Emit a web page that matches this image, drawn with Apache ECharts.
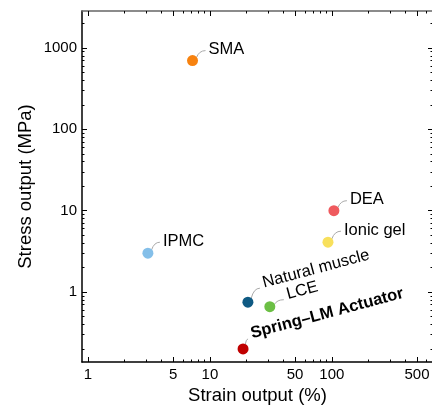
<!DOCTYPE html>
<html lang="en">
<head>
  <meta charset="UTF-8">
  <title>Stress vs strain</title>
  <script src="https://cdn.jsdelivr.net/npm/echarts@6.0.0/dist/echarts.min.js"></script>
</head>
<body style="margin:0">
<div id="main" style="width: 432px;height:409px;"></div>
<script type="text/javascript">

  // actuator types and their values
  const names = ['SMA', 'DEA', 'Ionic gel', 'IPMC', 'Natural muscle', 'LCE', 'Spring–LM Actuator'];
  const strain = [7.2, 104, 93, 3.1, 20.5, 31, 18.7];   // %
  const stress = [700, 10, 4.1, 3.0, 0.75, 0.66, 0.2];  // MPa

  // tick values
  const xMajor = [1, 5, 10, 50, 100, 500];
  const xMinor = [2, 3, 4, 6, 7, 8, 9, 20, 30, 40, 60, 70, 80, 90, 200, 300, 400, 600];
  const yMajor = [1, 10, 100, 1000];
  const yMinor = [0.2, 0.3, 0.4, 0.5, 0.6, 0.7, 0.8, 0.9, 2, 3, 4, 5, 6, 7, 8, 9,
    20, 30, 40, 50, 60, 70, 80, 90, 200, 300, 400, 500, 600, 700, 800, 900, 2000];

  const pointColors = ['#f7820f', '#ef5a5e', '#f8e05c', '#84bfe9', '#0f5a83', '#6cbf45', '#c00000'];

  // label placement relative to the dot centre: [dx, dy, rotate]
  const labelPlace = {
    'SMA': [16, -11, 0],
    'DEA': [16, -11, 0],
    'Ionic gel': [16, -12, 0],
    'IPMC': [15, -12, 0],
    'Natural muscle': [15, -19, 15],
    'LCE': [17, -12, 15],
    'Spring–LM Actuator': [8, -15, 15]
  };

  var myChart = echarts.init(document.getElementById('main'));

  const font = 'Liberation Sans, Arial, sans-serif';
  const xRange = {min: 0.893, max: 676};
  const yRange = {min: 0.138, max: 2850};

  // build an axis (major ticks + labels, or minor ticks only)
  function makeAxis(pos, range, ticks, len, withLine, lineColor, labels) {
    return {
      type: 'log',
      position: pos,
      min: range.min,
      max: range.max,
      splitLine: {show: false},
      axisLine: {show: withLine, lineStyle: {color: lineColor, width: 1.5}},
      axisTick: {show: true, inside: true, length: len, customValues: ticks,
        lineStyle: {color: '#000', width: 1}},
      axisLabel: labels ? {show: true, customValues: ticks, color: '#000', fontSize: 15,
        fontFamily: font, margin: 5, formatter: function (v) { return String(v); }} : {show: false}
    };
  }

  const xAxes = [
    makeAxis('bottom', xRange, xMajor, 5, true, '#000', true),
    makeAxis('bottom', xRange, xMinor, 2.5, false, '#000', false),
    makeAxis('top', xRange, xMajor, 5, true, '#666', false),
    makeAxis('top', xRange, xMinor, 2.5, false, '#666', false)
  ];
  Object.assign(xAxes[0], {
    name: 'Strain output (%)', nameLocation: 'middle', nameGap: 24, nameMoveOverlap: false,
    nameTextStyle: {color: '#000', fontSize: 18.5, fontFamily: font}
  });

  const yAxes = [
    makeAxis('left', yRange, yMajor, 5, true, '#000', true),
    makeAxis('left', yRange, yMinor, 2.5, false, '#000', false),
    makeAxis('right', yRange, yMajor, 5, true, '#666', false),
    makeAxis('right', yRange, yMinor, 2.5, false, '#666', false)
  ];
  Object.assign(yAxes[0], {
    name: 'Stress output (MPa)', nameLocation: 'middle', nameGap: 47, nameMoveOverlap: false,
    nameTextStyle: {color: '#000', fontSize: 18.5, fontFamily: font}
  });

  const points = names.map(function (n, i) {
    return {
      name: n,
      value: [strain[i], stress[i]],
      itemStyle: {color: pointColors[i], opacity: 1},
      label: {fontWeight: n === 'Spring–LM Actuator' ? 'bold' : 'normal'}
    };
  });

  // end of the leader line, near the start of the text
  function leaderEnd(pt, pl) {
    return pl[2] ? [pt[0] + pl[0] - 3, pt[1] + pl[1] + 5] : [pt[0] + pl[0] - 3, pt[1] + pl[1] + 1];
  }

  myChart.setOption({
    backgroundColor: '#fff',
    animation: false,
    grid: {left: 82, right: -1, top: 11, bottom: 47, containLabel: false, outerBoundsMode: 'none'},
    xAxis: xAxes,
    yAxis: yAxes,
    series: [{
      // short curved grey leaders from the dots to their labels
      type: 'custom',
      xAxisIndex: 0,
      yAxisIndex: 0,
      silent: true,
      data: names.map(function (n, i) { return [strain[i], stress[i]]; }),
      renderItem: function (params, api) {
        const pt = api.coord([api.value(0), api.value(1)]);
        const pl = labelPlace[names[params.dataIndex]];
        const e = leaderEnd(pt, pl);
        const len = Math.sqrt((e[0] - pt[0]) * (e[0] - pt[0]) + (e[1] - pt[1]) * (e[1] - pt[1]));
        const sx = pt[0] + (e[0] - pt[0]) / len * 5;
        const sy = pt[1] + (e[1] - pt[1]) / len * 5;
        return {
          type: 'bezierCurve',
          shape: {x1: sx, y1: sy, x2: e[0], y2: e[1], cpx1: sx + (e[0] - sx) * 0.3, cpy1: e[1]},
          style: {stroke: '#aaa', fill: null, lineWidth: 1}
        };
      }
    }, {
      type: 'scatter',
      xAxisIndex: 0,
      yAxisIndex: 0,
      symbolSize: 11,
      data: points,
      label: {
        show: true,
        position: 'right',
        formatter: '{b}',
        color: '#000',
        fontSize: 16.5,
        fontFamily: font
      },
      // put each label up-right of its dot
      labelLayout: function (p) {
        const pl = labelPlace[names[p.dataIndex]];
        const cx = p.rect.x + p.rect.width / 2;
        const cy = p.rect.y + p.rect.height / 2;
        return {
          x: cx + pl[0],
          y: cy + pl[1],
          align: 'left',
          verticalAlign: 'middle',
          rotate: pl[2]
        };
      }
    }]
  });

</script>
</body>
</html>
